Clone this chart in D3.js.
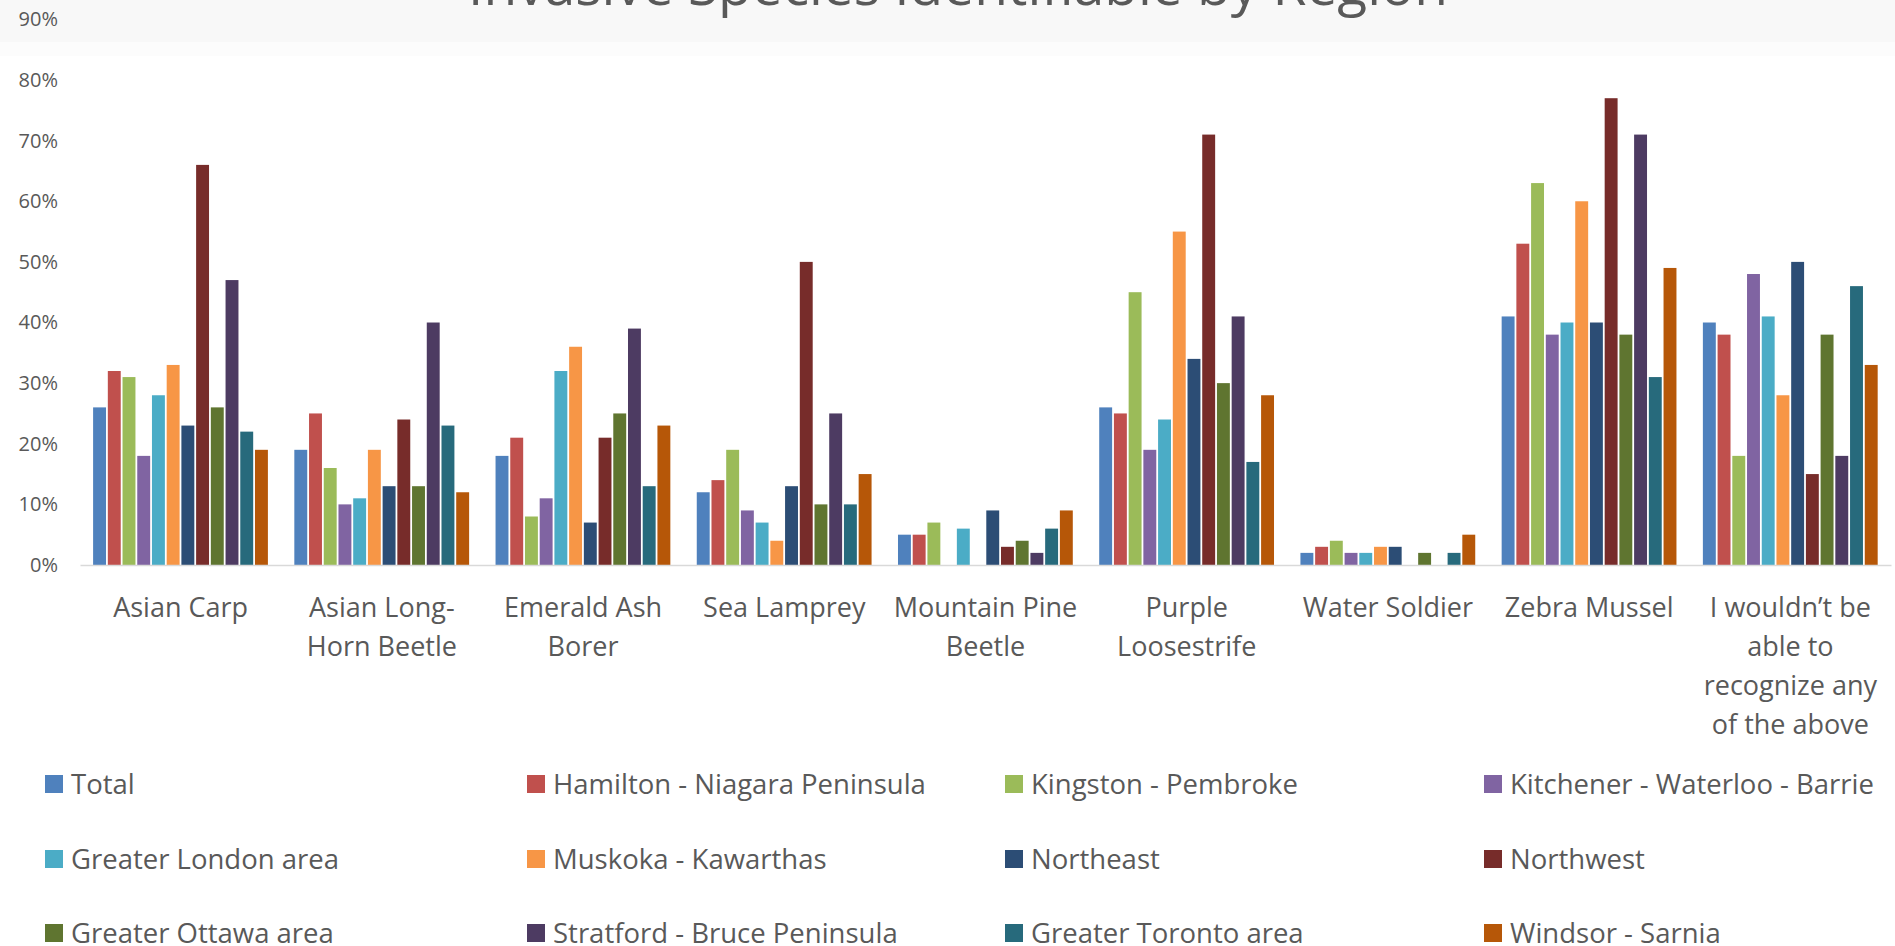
<!DOCTYPE html>
<html>
<head>
<meta charset="utf-8">
<script src="https://cdn.jsdelivr.net/npm/d3@7"></script>
<style>
  html, body { margin: 0; padding: 0; background: #ffffff; overflow: hidden; }
  svg { display: block; font-family: "Open Sans", "Noto Sans", sans-serif; }
</style>
</head>
<body>
<svg id="chart" width="1895" height="946"></svg>
<script>
const title = "Invasive Species Identifiable by Region";

const categories = [
  "Asian Carp", "Asian Long-Horn Beetle", "Emerald Ash Borer", "Sea Lamprey",
  "Mountain Pine Beetle", "Purple Loosestrife", "Water Soldier", "Zebra Mussel",
  "I wouldn’t be able to recognize any of the above"
];

const categoryLabelLines = [
  ["Asian Carp"],
  ["Asian Long-", "Horn Beetle"],
  ["Emerald Ash", "Borer"],
  ["Sea Lamprey"],
  ["Mountain Pine", "Beetle"],
  ["Purple", "Loosestrife"],
  ["Water Soldier"],
  ["Zebra Mussel"],
  ["I wouldn’t be", "able to", "recognize any", "of the above"]
];

const seriesNames = [
  "Total", "Hamilton - Niagara Peninsula", "Kingston - Pembroke", "Kitchener - Waterloo - Barrie",
  "Greater London area", "Muskoka - Kawarthas", "Northeast", "Northwest",
  "Greater Ottawa area", "Stratford - Bruce Peninsula", "Greater Toronto area", "Windsor - Sarnia"
];

const seriesColors = [
  "#4F81BD", "#C0504D", "#9BBB59", "#8064A2",
  "#4BACC6", "#F79646", "#2C4D75", "#772C2A",
  "#5F7530", "#4D3B62", "#276A7C", "#B65708"
];

// values in percent, one array per series, in category order
const total      = [26, 19, 18, 12, 5, 26, 2, 41, 40];
const hamilton   = [32, 25, 21, 14, 5, 25, 3, 53, 38];
const kingston   = [31, 16, 8, 19, 7, 45, 4, 63, 18];
const kitchener  = [18, 10, 11, 9, 0, 19, 2, 38, 48];
const london     = [28, 11, 32, 7, 6, 24, 2, 40, 41];
const muskoka    = [33, 19, 36, 4, 0, 55, 3, 60, 28];
const northeast  = [23, 13, 7, 13, 9, 34, 3, 40, 50];
const northwest  = [66, 24, 21, 50, 3, 71, 0, 77, 15];
const ottawa     = [26, 13, 25, 10, 4, 30, 2, 38, 38];
const stratford  = [47, 40, 39, 25, 2, 41, 0, 71, 18];
const toronto    = [22, 23, 13, 10, 6, 17, 2, 31, 46];
const windsor    = [19, 12, 23, 15, 9, 28, 5, 49, 33];

const seriesValues = [total, hamilton, kingston, kitchener, london, muskoka,
  northeast, northwest, ottawa, stratford, toronto, windsor];

const yTicks = [0, 10, 20, 30, 40, 50, 60, 70, 80, 90];

const svg = d3.select("#chart");
const textColor = "#595959";

// top band
svg.append("rect").attr("x", 0).attr("y", 0).attr("width", 1895).attr("height", 42).attr("fill", "#f8f8f8");
svg.append("rect").attr("x", 0).attr("y", 42).attr("width", 1895).attr("height", 14).attr("fill", "#fcfcfc");

// title (clipped at top)
svg.append("text")
  .attr("x", 958).attr("y", 5)
  .attr("text-anchor", "middle")
  .attr("font-size", 55)
  .attr("fill", textColor)
  .text(title);

const x0 = d3.scaleBand().domain(categories).range([80, 1891]).padding(0);
const x1 = d3.scaleBand().domain(seriesNames).range([12.2, 188.8]).padding(0);
const y = d3.scaleLinear().domain([0, 90]).range([565, 19.4]);

// y axis labels
const yAxis = d3.axisLeft(y).tickValues(yTicks).tickFormat(d => d + "%").tickSize(0).tickPadding(0);
const yg = svg.append("g").attr("transform", "translate(58,0)").call(yAxis);
yg.select(".domain").remove();
yg.selectAll("text").attr("font-size", 20).attr("fill", textColor)
  .attr("font-family", "'Open Sans', sans-serif");

// bars
const groups = svg.append("g").selectAll("g")
  .data(categories)
  .join("g")
  .attr("transform", d => `translate(${x0(d)},0)`);

groups.selectAll("rect")
  .data((c, ci) => seriesNames.map((s, si) => ({ s, v: seriesValues[si][ci], color: seriesColors[si] })))
  .join("rect")
  .attr("x", d => x1(d.s) + 0.9)
  .attr("width", x1.bandwidth() - 1.8)
  .attr("y", d => y(d.v))
  .attr("height", d => y(0) - y(d.v))
  .attr("fill", d => d.color);

// x axis baseline
const xAxis = d3.axisBottom(x0).tickSize(0).tickFormat("");
const xg = svg.append("g").attr("transform", `translate(0,${y(0)})`).call(xAxis);
xg.select(".domain").attr("stroke", "#d9d9d9").attr("stroke-width", 1.5);

// category labels
const labelG = svg.append("g");
categories.forEach((c, i) => {
  const t = labelG.append("text")
    .attr("x", x0(c) + x0.bandwidth() / 2)
    .attr("y", 617)
    .attr("text-anchor", "middle")
    .attr("font-size", 27)
    .attr("fill", textColor);
  categoryLabelLines[i].forEach((line, li) => {
    t.append("tspan").attr("x", x0(c) + x0.bandwidth() / 2).attr("y", 617 + li * 39).text(line);
  });
});

// legend
const legendCols = [45, 527, 1005, 1484];
const legendRows = [794, 869, 943];
const legend = svg.append("g");
seriesNames.forEach((s, i) => {
  const cx = legendCols[i % 4];
  const by = legendRows[Math.floor(i / 4)];
  legend.append("rect").attr("x", cx).attr("y", by - 19).attr("width", 18).attr("height", 18).attr("fill", seriesColors[i]);
  legend.append("text").attr("x", cx + 26).attr("y", by)
    .attr("font-size", 27.5).attr("fill", textColor).text(s);
});
</script>
</body>
</html>
